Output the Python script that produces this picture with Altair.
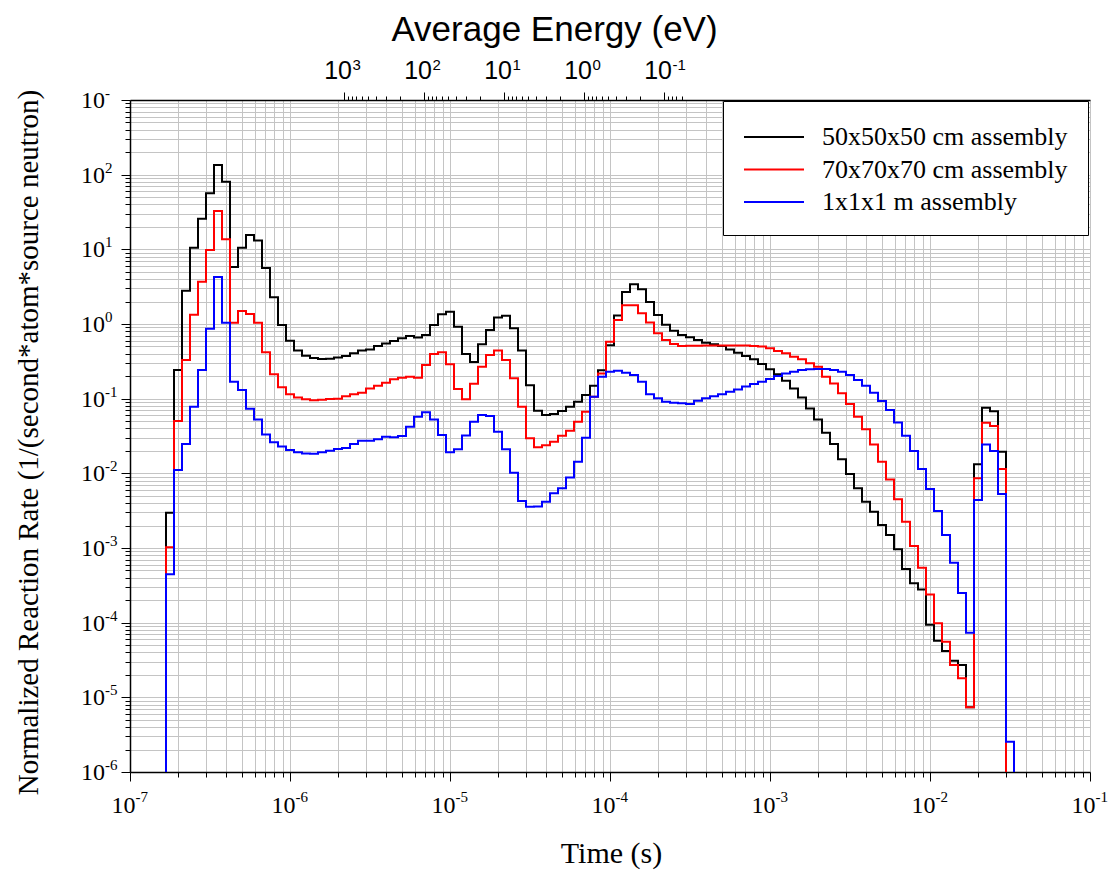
import altair as alt
import pandas as pd

# ---------------- data ----------------
series_names = ["50x50x50 cm assembly", "70x70x70 cm assembly", "1x1x1 m assembly"]
series_colors = ["#000000", "#ff0000", "#0000ff"]

# histogram: 20 bins per decade of time, bin k centred at 10**(-7 + k/20)
bins_per_decade = 20
first_bin = 5

black = [
    2.97e-3, 0.242, 2.79, 10.5, 25.7, 56.2, 135, 80.5, 5.80, 10.5,
    15.6, 13.1, 5.62, 2.28, 0.97, 0.598, 0.44, 0.377, 0.35, 0.34,
    0.342, 0.357, 0.372, 0.405, 0.44, 0.457, 0.507, 0.55, 0.592, 0.643,
    0.69, 0.662, 0.711, 0.968, 1.35, 1.46, 0.92, 0.396, 0.31, 0.534,
    0.83, 1.22, 1.29, 0.875, 0.44, 0.151, 0.069, 0.0604, 0.0622, 0.0685,
    0.078, 0.091, 0.112, 0.149, 0.24, 0.52, 1.3, 2.68, 3.42, 2.91,
    1.97, 1.32, 0.98, 0.81, 0.711, 0.663, 0.611, 0.562, 0.534, 0.507,
    0.457, 0.413, 0.372, 0.336, 0.291, 0.247, 0.212, 0.174, 0.137, 0.104,
    0.0741, 0.0528, 0.035, 0.0247, 0.0154, 0.0098, 0.0063, 0.00417, 0.00306, 0.00203,
    0.00149, 0.00096, 0.000523, 0.000336, 0.000279, 9.4e-5, 5.74e-5, 4.17e-5, 3.1e-5, 2.71e-5,
    7.35e-6, 0.0132, 0.0757, 0.068, 0.0195,
]
red = [
    1.02e-3, 0.0502, 0.33, 1.33, 3.69, 9.8, 32.6, 13.6, 1.04, 1.49,
    1.36, 1.04, 0.417, 0.212, 0.142, 0.115, 0.104, 0.098, 0.095, 0.097,
    0.099, 0.10, 0.108, 0.115, 0.12, 0.137, 0.149, 0.164, 0.182, 0.191,
    0.197, 0.191, 0.282, 0.396, 0.417, 0.288, 0.135, 0.098, 0.159, 0.268,
    0.385, 0.44, 0.33, 0.187, 0.078, 0.0294, 0.0223, 0.0237, 0.0265, 0.0319,
    0.0372, 0.0492, 0.067, 0.106, 0.218, 0.58, 1.13, 1.78, 1.78, 1.39,
    1.05, 0.75, 0.611, 0.54, 0.507, 0.51, 0.51, 0.515, 0.515, 0.515,
    0.515, 0.515, 0.515, 0.507, 0.50, 0.472, 0.435, 0.405, 0.365, 0.336,
    0.297, 0.268, 0.197, 0.160, 0.118, 0.0848, 0.0574, 0.0388, 0.0244, 0.0143,
    0.0083, 0.00449, 0.00225, 0.00106, 0.000545, 0.000239, 9.8e-5, 5.56e-5, 2.71e-5, 1.8e-5,
    7.35e-6, 0.00857, 0.0477, 0.043, 0.0114,
]
blue = [
    4.45e-4, 0.0111, 0.0247, 0.078, 0.242, 0.865, 4.26, 1.04, 0.169, 0.131,
    0.0735, 0.0528, 0.033, 0.026, 0.0228, 0.0205, 0.0191, 0.0185, 0.0183, 0.0191,
    0.0201, 0.0212, 0.0218, 0.0247, 0.0273, 0.0273, 0.0285, 0.031, 0.0305, 0.0316,
    0.0422, 0.0574, 0.0656, 0.0528, 0.0326, 0.0191, 0.021, 0.0322, 0.0492, 0.0604,
    0.0586, 0.0361, 0.021, 0.0102, 0.00426, 0.00357, 0.0036, 0.00417, 0.0054, 0.0063,
    0.0088, 0.0143, 0.030, 0.106, 0.197, 0.23, 0.237, 0.223, 0.207, 0.169,
    0.115, 0.101, 0.091, 0.0883, 0.0866, 0.085, 0.094, 0.101, 0.108, 0.115,
    0.124, 0.133, 0.145, 0.157, 0.169, 0.183, 0.201, 0.218, 0.23, 0.242,
    0.247, 0.25, 0.25, 0.242, 0.23, 0.207, 0.178, 0.149, 0.12, 0.093,
    0.0705, 0.048, 0.0319, 0.0199, 0.0114, 0.00617, 0.00313, 0.00149, 0.000635, 0.00025,
    7.3e-5, 0.0044, 0.0244, 0.0199, 0.00529, 2.55e-6,
]
floor_value = 1e-9  # empty bins (below the axis)

# tick labels: "10" with a superscript exponent
x_tick_values = [1e-7, 1e-6, 1e-5, 1e-4, 1e-3, 1e-2, 1e-1]
x_tick_exponents = ["-7", "-6", "-5", "-4", "-3", "-2", "-1"]
y_tick_values = [1e-6, 1e-5, 1e-4, 1e-3, 1e-2, 1e-1, 1e0, 1e1, 1e2, 1e3]
y_tick_exponents = ["-6", "-5", "-4", "-3", "-2", "-1", "0", "1", "2", "-"]
e_tick_values = [1e3, 1e2, 1e1, 1e0, 1e-1]
e_tick_exponents = ["3", "2", "1", "0", "-1"]

# ---------------- build tables ----------------
rows = []
for name, vals in zip(series_names, [black, red, blue]):
    rows.append({"series": name, "t": 10 ** (-7 + (first_bin - 1.5) / bins_per_decade), "v": floor_value})
    for i, v in enumerate(vals):
        k = first_bin + i
        rows.append({"series": name, "t": 10 ** (-7 + (k - 0.5) / bins_per_decade), "v": v})
    k_last = first_bin + len(vals) - 1
    rows.append({"series": name, "t": 10 ** (-7 + (k_last + 0.5) / bins_per_decade), "v": floor_value})
df = pd.DataFrame(rows)

x_vals = [m * 10.0 ** e for e in range(-7, -1) for m in range(1, 10)] + [0.1]
y_vals = [m * 10.0 ** e for e in range(-6, 3) for m in range(1, 10)] + [1000.0]
e_vals = []
for e in [3, 2, 1, 0]:
    e_vals += [10.0 ** e] + [m * 10.0 ** (e - 1) for m in range(9, 1, -1)]
e_vals += [0.1] + [m * 0.01 for m in (9, 8, 7, 6)]

x_lab = pd.DataFrame({"t": x_tick_values, "base": "10", "exp": x_tick_exponents})
y_lab = pd.DataFrame({"v": y_tick_values, "base": "10", "exp": y_tick_exponents})
e_lab = pd.DataFrame({"E": e_tick_values, "base": "10", "exp": e_tick_exponents})

LOG = "(log(datum.value)/LN10)"
MAJOR = f"abs({LOG} - round({LOG})) < 0.01"


def tick_size(major, minor):
    return {"condition": {"test": MAJOR, "value": major}, "value": minor}


SERIF = "Liberation Serif"
SANS = "Liberation Sans"
GRID = "#c4c4c4"

t_scale = alt.Scale(type="log", domain=[1e-7, 1e-1], nice=False)
v_scale = alt.Scale(type="log", domain=[1e-6, 1e3], nice=False)
e_scale = alt.Scale(type="log", domain=[10 ** -6.325, 10 ** 5.675], reverse=True, nice=False, zero=False)

lines = alt.Chart(df).mark_line(interpolate="step-after", clip=True, strokeWidth=2).encode(
    x=alt.X(
        "t:Q", scale=t_scale,
        axis=alt.Axis(
            orient="bottom", values=x_vals, grid=True, gridColor=GRID, gridWidth=1, labels=False,
            tickSize=tick_size(9, 5), tickColor="black", domainColor="black", domainWidth=1.5,
            title="Time (s)", titleFont=SERIF, titleFontSize=30, titleFontWeight="normal",
            titleX=481, titleY=81, titleBaseline="middle", titleAlign="center", titleColor="black",
        ),
    ),
    y=alt.Y(
        "v:Q", scale=v_scale,
        axis=alt.Axis(
            orient="left", values=y_vals, grid=True, gridColor=GRID, gridWidth=1, labels=False,
            tickSize=tick_size(9, 5), tickColor="black", domainColor="black", domainWidth=1.5,
            title="Normalized Reaction Rate (1/(second*atom*source neutron)",
            titleFont=SERIF, titleFontSize=29, titleFontWeight="normal", titleColor="black",
            titleX=-102, titleY=342, titleAngle=-90, titleBaseline="middle", titleAlign="center",
        ),
    ),
    color=alt.Color(
        "series:N",
        scale=alt.Scale(domain=series_names, range=series_colors),
        legend=alt.Legend(
            orient="none", legendX=593, legendY=1, title=None,
            symbolType="M-1,0H3", symbolSize=900, symbolStrokeWidth=2,
            labelFont=SERIF, labelFontSize=26, labelColor="black", labelOffset=47, labelLimit=500,
            padding=20, rowPadding=3.5, strokeColor="black", fillColor="white",
        ),
    ),
)

x_base = alt.Chart(x_lab).mark_text(font=SERIF, fontSize=24, align="right", baseline="alphabetic", dx=5.5, color="black").encode(
    x=alt.X("t:Q", scale=t_scale, axis=None), y=alt.value(713), text="base:N")
x_exp = alt.Chart(x_lab).mark_text(font=SERIF, fontSize=15, align="left", baseline="alphabetic", dx=5.5, color="black").encode(
    x=alt.X("t:Q", scale=t_scale, axis=None), y=alt.value(702), text="exp:N")

y_base = alt.Chart(y_lab).mark_text(font=SERIF, fontSize=24, align="left", baseline="alphabetic", dy=8, color="black").encode(
    y=alt.Y("v:Q", scale=v_scale, axis=None), x=alt.value(-49), text="base:N")
y_exp = alt.Chart(y_lab).mark_text(font=SERIF, fontSize=15, align="left", baseline="alphabetic", dy=-2, color="black").encode(
    y=alt.Y("v:Q", scale=v_scale, axis=None), x=alt.value(-25), text="exp:N")

energy_axis = alt.Chart(pd.DataFrame({"E": e_vals})).mark_point(opacity=0).encode(
    x=alt.X(
        "E:Q", scale=e_scale,
        axis=alt.Axis(
            orient="top", values=e_vals, grid=False, labels=False,
            tickSize=tick_size(8, 4), tickColor="black", domainColor="black", domainWidth=1.5,
            title="Average Energy (eV)", titleFont=SANS, titleFontSize=35, titleFontWeight="normal",
            titleColor="black", titleX=424, titleY=-60, titleBaseline="alphabetic", titleAlign="center",
        ),
    ),
    y=alt.value(0),
)
e_base = alt.Chart(e_lab).mark_text(font=SANS, fontSize=25, align="right", baseline="alphabetic", dx=8, color="black").encode(
    x=alt.X("E:Q", scale=e_scale, axis=None), y=alt.value(-21.5), text="base:N")
e_exp = alt.Chart(e_lab).mark_text(font=SANS, fontSize=15, align="left", baseline="alphabetic", dx=8.5, color="black").encode(
    x=alt.X("E:Q", scale=e_scale, axis=None), y=alt.value(-30.5), text="exp:N")

chart = (
    alt.layer(lines, x_base, x_exp, y_base, y_exp, energy_axis, e_base, e_exp)
    .resolve_scale(x="independent")
    .resolve_axis(y="independent")
    .properties(
        width=960, height=672,
        padding={"left": 122, "top": 92, "right": 18, "bottom": 100},
        autosize=alt.AutoSizeParams(type="none"),
        background="white",
    )
    .configure_view(strokeWidth=0)
)

chart.save("out.html", embed_options={"renderer": "svg", "actions": False})
